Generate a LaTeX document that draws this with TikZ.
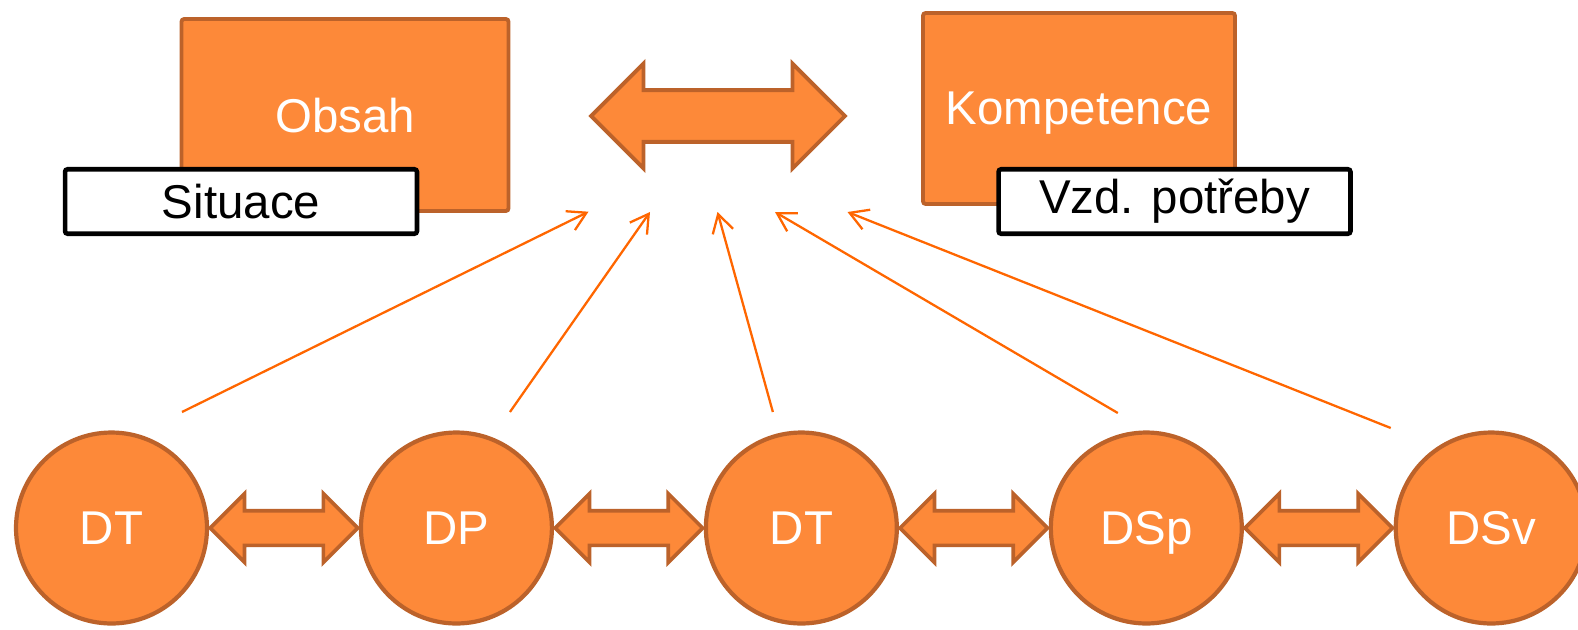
\documentclass[tikz,border=0pt]{standalone}
\usepackage{fontspec}
\setmainfont{Liberation Sans}
\usetikzlibrary{positioning,shapes.arrows,calc,arrows.meta}
\definecolor{boxorange}{RGB}{253,137,57}
\definecolor{boxedge}{RGB}{188,98,42}
\definecolor{linkorange}{RGB}{255,102,0}

\begin{document}
\begin{tikzpicture}[x=0.02cm,y=0.02cm]
      \tikzset{
        node distance=6.9cm,
        every node/.style={font=\fontsize{27}{32}\selectfont},
        topic/.style={rectangle,rounded corners=1.5pt,fill=boxorange,draw=boxedge,line width=2.2pt,text depth=0pt,text=white},
        tag/.style={rectangle,rounded corners=1.5pt,fill=white,draw=black,line width=2.6pt,minimum width=7.04cm,minimum height=1.29cm},
        phase/.style={circle,fill=boxorange,draw=boxedge,line width=2.4pt,minimum size=3.82cm,inner sep=0pt,text depth=0pt,text=white},
        swap/.style={double arrow,fill=boxorange,draw=boxedge,line width=2.1pt,inner xsep=0pt,inner ysep=0.31cm,
          minimum height=2.95cm,minimum width=1.3cm,double arrow head extend=0.34cm},
        link/.style={draw=linkorange,line width=1.3pt,-{Straight Barb[length=0.36cm,width=0.42cm]}}
      }
      \useasboundingbox (0,0) rectangle (1578,-629);

      % upper part
      \node[topic,minimum width=6.54cm,minimum height=3.84cm] (obsah) at (345,-115) {Obsah};
      \node[topic,minimum width=6.24cm,minimum height=3.82cm] (komp) at (1079,-108.5) {Kompetence};
      \node[tag] (situace) at (241,-201.5) {Situace};
      \node[tag] (vzd) at (1174.5,-201.5) {Vzd. potřeby};
      \node[swap,minimum height=5.08cm,minimum width=2.02cm,inner ysep=0.48cm,double arrow head extend=0.53cm,line width=2.2pt] (vztah) at (718,-116) {};

      % lower row
      \node[phase] (v1) at (111.5,-528) {DT};
      \node[phase,right of=v1] (v2) {DP};
      \node[phase,right of=v2] (v3) {DT};
      \node[phase,right of=v3] (v4) {DSp};
      \node[phase,right of=v4] (v5) {DSv};

      \node[swap] (a12) at ($(v1)!0.5!(v2)$) {};
      \node[swap] (a23) at ($(v2)!0.5!(v3)$) {};
      \node[swap] (a34) at ($(v3)!0.5!(v4)$) {};
      \node[swap] (a45) at ($(v4)!0.5!(v5)$) {};

      % links up to the arrow
      \coordinate (s1) at ($(v1)+(70.5,116)$);
      \coordinate (s2) at ($(v2)+(53.5,116)$);
      \coordinate (s3) at ($(v3)+(-28.5,116)$);
      \coordinate (s4) at ($(v4)+(-28.5,115)$);
      \coordinate (s5) at ($(v5)+(-100.5,100)$);
      \coordinate (t1) at ($(vztah)+(-129.5,-95.7)$);
      \coordinate (t2) at ($(vztah)+(-68,-96)$);
      \coordinate (t3) at ($(vztah)+(-0.5,-96)$);
      \coordinate (t4) at ($(vztah)+(57,-96)$);
      \coordinate (t5) at ($(vztah)+(129.5,-96)$);

      \draw[link] (s1) -- (t1);
      \draw[link] (s2) -- (t2);
      \draw[link] (s3) -- (t3);
      \draw[link] (s4) -- (t4);
      \draw[link] (s5) -- (t5);
    \end{tikzpicture}
\end{document}
